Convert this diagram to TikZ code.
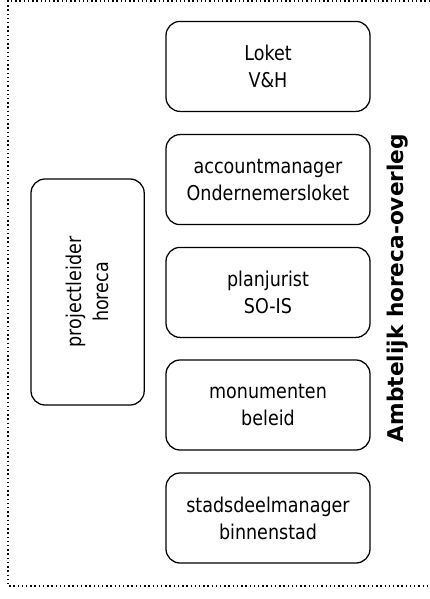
\documentclass[tikz,border=0pt]{standalone}
\usepackage{fontspec}
\setmainfont[FakeStretch=0.86]{DejaVu Sans}
\newfontfamily\titelfont{DejaVu Sans}
\usepackage{tikz}
\usetikzlibrary{positioning}

\begin{document}
\begin{tikzpicture}[
		role/.style={rectangle, draw=black, line width=0.9pt, rounded corners=10pt,
			minimum width=5.1cm, minimum height=2.25cm,
			align=center, font=\fontsize{14.5}{19.2}\selectfont},
		lead/.style={role, rotate=90, minimum width=5.65cm, minimum height=2.83cm},
		overleg/.style={rotate=90, font=\titelfont\fontsize{15.4}{19}\selectfont\bfseries}
		]
		\useasboundingbox (0, 0) rectangle (10.75, -14.975) ;
		\draw[dotted, line width=1pt] (10.75, -0.03) -- (0.2, -0.03)
		-- (0.2, -14.65) -- (10.75, -14.65) ;
		
		\node[role] (loket) at (6.7, -1.66) {Loket\\V\&H} ;
		\node[role] (account) at (6.7, -4.49)
		{accountmanager\\Ondernemersloket} ;
		\node[role] (jurist) at (6.7, -7.31) {planjurist\\SO-IS} ;
		\node[role] (monument) at (6.7, -10.125) {monumenten\\beleid} ;
		\node[role] (stadsdeel) at (6.7, -12.95)
		{stadsdeelmanager\\binnenstad} ;
		
		\node[lead] (projectleider) at (2.19, -7.3) {projectleider\\horeca} ;
		
		\node[overleg] (titel) at (9.93, -7.2) {Ambtelijk horeca-overleg} ;
	\end{tikzpicture}
\end{document}
